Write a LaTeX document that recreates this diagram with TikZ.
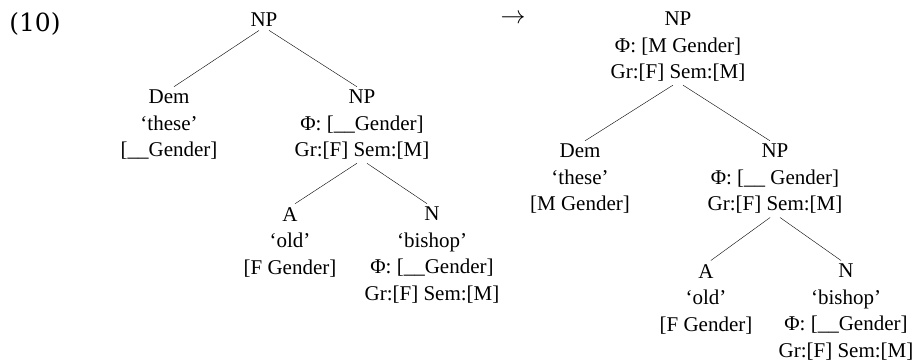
\documentclass[tikz,border=0pt]{standalone}
\usepackage{fontspec}
\setmainfont{Liberation Serif}
\newfontfamily\exnumfont{DejaVu Serif}

\begin{document}
\begin{tikzpicture}[x=1pt,y=-1pt,
    feat/.style ={align=center, anchor=north, inner sep=0pt,
      font=\fontsize{21}{26.5}\selectfont},
    branch/.style ={shorten <=6pt, shorten >=6pt}]
   \useasboundingbox (0,0) rectangle (916,364);
   \node (ex) at (35,24) {\exnumfont\fontsize{25}{30}\selectfont(10)};
   % left tree
   \node[feat] (np1) at (264,13) {NP};
   \node[feat] (dem1) at (169,90) {Dem\\`these'\\{[\_\_Gender]}};
   \node[feat] (np2) at (362,90) {NP\\Φ: [\_\_Gender]\\Gr:[F] Sem:[M]};
   \node[feat] (a1) at (290,207) {A\\`old'\\{[F Gender]}};
   \node[feat] (n1) at (432,207) {N\\`bishop'\\Φ: [\_\_Gender]\\Gr:[F] Sem:[M]};
   \draw[branch] (np1.south) to (dem1.north);
   \draw[branch] (np1.south) to (np2.north);
   \draw[branch] (np2.south) to (a1.north);
   \draw[branch] (np2.south) to (n1.north);
   \node (arr) at (513,19) {\fontsize{24}{28}\selectfont$\rightarrow$};
   % right tree
   \node[feat] (np3) at (678,12) {NP\\Φ: [M Gender]\\Gr:[F] Sem:[M]};
   \node[feat] (dem2) at (580,144) {Dem\\`these'\\{[M Gender]}};
   \node[feat] (np4) at (775,144) {NP\\Φ: [\_\_ Gender]\\Gr:[F] Sem:[M]};
   \node[feat] (a2) at (706,264) {A\\`old'\\{[F Gender]}};
   \node[feat] (n2) at (846,264) {N\\`bishop'\\Φ: [\_\_Gender]\\Gr:[F] Sem:[M]};
   \draw[branch] (np3.south) to (dem2.north);
   \draw[branch] (np3.south) to (np4.north);
   \draw[branch] (np4.south) to (a2.north);
   \draw[branch] (np4.south) to (n2.north);
 \end{tikzpicture}
\end{document}
